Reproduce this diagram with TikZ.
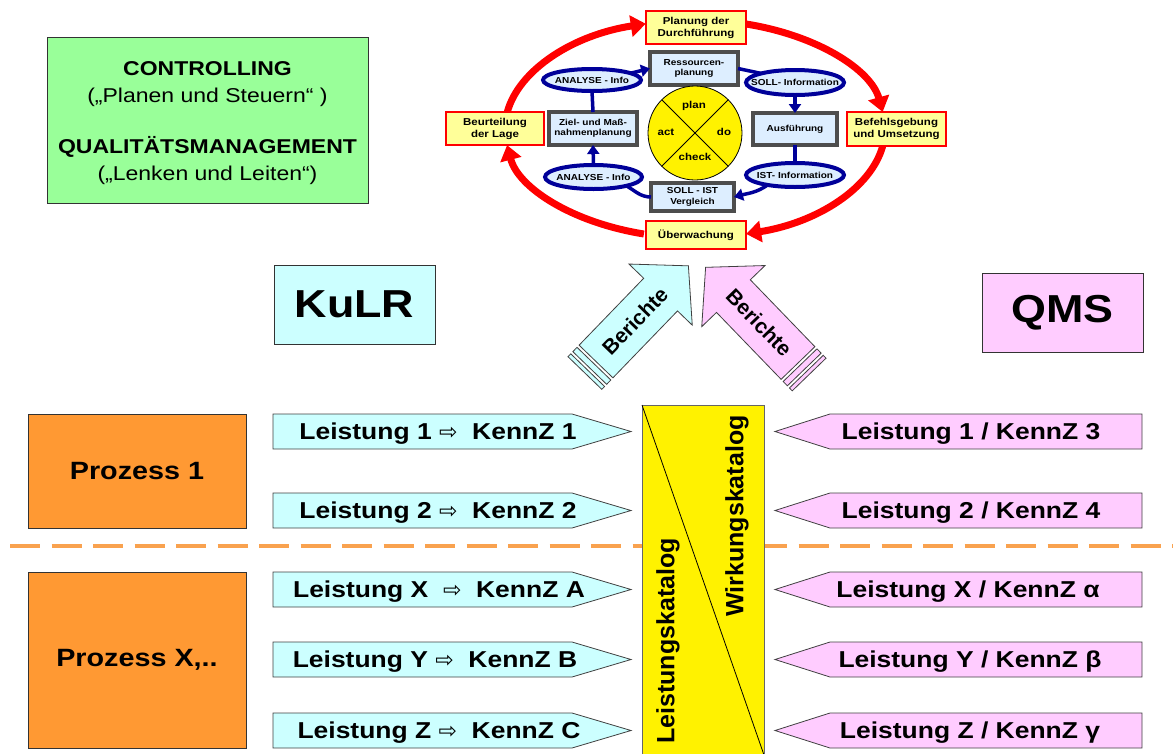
\documentclass[tikz,border=0pt]{standalone}
\usepackage{fontspec}
\setmainfont[FakeStretch=1.15]{Liberation Sans}
\newfontfamily\plainfont{Liberation Sans}
\newfontfamily\symfont{DejaVu Sans}
\usetikzlibrary{arrows.meta,shapes.geometric}
\definecolor{cgreen}{HTML}{99FF99}
\definecolor{ccyan}{HTML}{CCFFFF}
\definecolor{cpink}{HTML}{FFCCFF}
\definecolor{corange}{HTML}{FF9933}
\definecolor{cdash}{HTML}{F9A24F}
\definecolor{cltyellow}{HTML}{FFFF99}
\definecolor{cltblue}{HTML}{DDEEFF}
\definecolor{cnavy}{HTML}{000099}
\definecolor{cgray}{HTML}{4D4D4D}
\newcommand{\fs}[1]{\fontsize{#1}{#1}\selectfont}
\newcommand{\arr}{{\symfont\mdseries\fontsize{22}{22}\selectfont ⇨}}
\begin{document}
\begin{tikzpicture}[x=1pt,y=1pt,
  every node/.style={inner sep=0pt, outer sep=0pt},
  tbox/.style={rectangle, draw=black!80, line width=0.8pt},
  redbox/.style={rectangle, draw=red, line width=1.2pt, fill=cltyellow, align=center, font=\bfseries\fontsize{10}{12}\selectfont},
  graybox/.style={rectangle, draw=cgray, line width=4pt, fill=cltblue, align=center, font=\bfseries\fontsize{8.7}{10.3}\selectfont},
  navyell/.style={ellipse, draw=cnavy, line width=4pt, fill=cltblue},
  elltxt/.style={font=\bfseries\fs{8.7}},
  pdcatxt/.style={anchor=base, font=\bfseries\fs{10}},
  redarc/.style={draw=red, line width=7pt, -{Triangle[length=15pt,width=21pt]}},
  bluearr/.style={draw=cnavy, line width=3.5pt, -{Triangle[length=9pt,width=12pt]}},
  blueln/.style={draw=cnavy, line width=3.5pt},
  lshape/.style={draw=black!75, line width=0.8pt, fill=ccyan},
  rshape/.style={draw=black!75, line width=0.8pt, fill=cpink},
  rowtxt/.style={anchor=base, font=\bfseries\fs{23}},
  bertxt/.style={font=\bfseries\fs{21}}
]
\useasboundingbox (0,0) rectangle (1173,-753);

% ---------- left info boxes ----------
\node[tbox, fill=cgreen, minimum width=321, minimum height=166] (ctrlbox) at (207.5,-120) {};
\node[anchor=base, font=\bfseries\fs{20}] (ctrl1) at (207.5,-75) {CONTROLLING};
\node[anchor=base, font=\fs{20}] (ctrl2) at (207.5,-102) {(„Planen und Steuern“ )};
\node[anchor=base, font=\bfseries\fs{20}] (ctrl3) at (207.5,-153) {QUALITÄTSMANAGEMENT};
\node[anchor=base, font=\fs{20}] (ctrl4) at (207.5,-180) {(„Lenken und Leiten“)};

\node[tbox, fill=ccyan, minimum width=161, minimum height=79, font=\bfseries\fs{39}] (kulr) at (354.5,-304.5) {KuLR};
\node[tbox, fill=cpink, minimum width=161, minimum height=79, font=\bfseries\fs{39}] (qms) at (1062.5,-312.5) {QMS};

% ---------- processes ----------
\node[tbox, fill=corange, minimum width=218, minimum height=114, font=\bfseries\fs{25}] (p1) at (137,-471) {Prozess 1};
\node[tbox, fill=corange, minimum width=218, minimum height=176, font=\bfseries\fs{25}] (px) at (137,-660) {Prozess X,..};

\draw[cdash, line width=4pt, dash pattern=on 30pt off 11.5pt] (10,-546) -- (1173,-546);

% ---------- catalogue ----------
\node[draw=black!60, line width=0.8pt, fill=yellow, minimum width=122, minimum height=350, anchor=north west] (kat) at (642,-405) {};
\draw[line width=0.8pt] (kat.north west) -- (kat.south east);
\node[rotate=90, font=\bfseries\fs{25}] (lk) at (668,-641) {\plainfont Leistungskatalog};
\node[rotate=90, font=\bfseries\fs{25}] (wk) at (737,-516) {\plainfont Wirkungskatalog};

% ---------- rows ----------
\foreach \y in {431.5,510.5,589.5,659.5,730.5} {
  \draw[lshape] (273,-\y+17.5) -- (572,-\y+17.5) -- (631,-\y) -- (572,-\y-17.5) -- (273,-\y-17.5) -- cycle;
  \draw[rshape] (1142,-\y+17.5) -- (830,-\y+17.5) -- (775,-\y) -- (830,-\y-17.5) -- (1142,-\y-17.5) -- cycle;
}
\node[rowtxt] (l1) at (438,-439.7) {Leistung 1 \arr\ \ KennZ 1};
\node[rowtxt] (l2) at (438,-518.7) {Leistung 2 \arr\ \ KennZ 2};
\node[rowtxt] (lx) at (439,-597.7) {Leistung X \ \arr\ \ KennZ A};
\node[rowtxt] (ly) at (435,-667.7) {Leistung Y \arr\ \ KennZ B};
\node[rowtxt] (lz) at (439,-738.7) {Leistung Z \arr\ \ KennZ C};
\node[rowtxt] (r1) at (971,-439.7) {Leistung 1 / KennZ 3};
\node[rowtxt] (r2) at (971,-518.7) {Leistung 2 / KennZ 4};
\node[rowtxt] (rx) at (968,-597.7) {Leistung X / KennZ α};
\node[rowtxt] (ry) at (970,-667.7) {Leistung Y / KennZ β};
\node[rowtxt] (rz) at (970,-738.7) {Leistung Z / KennZ γ};

% ---------- Berichte arrows ----------
\begin{scope}[shift={(596,-361.5)}, rotate=46]
  \draw[lshape] (0,-23.5) -- (93,-23.5) -- (93,-44) -- (133,0) -- (93,44) -- (93,23.5) -- (0,23.5) -- cycle;
  \draw[lshape] (-3,-23.5) rectangle (-9,23.5);
  \draw[lshape] (-12,-23.5) rectangle (-16,23.5);
  \node[bertxt, rotate=46] (ber1) at (56,0) {\plainfont Berichte};
\end{scope}
\begin{scope}[shift={(798,-363)}, rotate=134]
  \draw[rshape] (0,-23.5) -- (93,-23.5) -- (93,-44) -- (133,0) -- (93,44) -- (93,23.5) -- (0,23.5) -- cycle;
  \draw[rshape] (-3,-23.5) rectangle (-9,23.5);
  \draw[rshape] (-12,-23.5) rectangle (-16,23.5);
  \node[bertxt, rotate=-46] (ber2) at (56,0) {\plainfont Berichte};
\end{scope}

% ---------- outer red cycle ----------
\coordinate (a1) at (507.3,-112);
\coordinate (a2) at (746.1,-24);
\coordinate (a3) at (882.7,-146);
\coordinate (a4) at (643.9,-234);
\draw[redarc] (a1) arc[start angle=171, end angle=105, x radius=190, y radius=109];
\draw[redarc] (a2) arc[start angle=74.4, end angle=9, x radius=190, y radius=109];
\draw[redarc] (a3) arc[start angle=-9, end angle=-74.4, x radius=190, y radius=109];
\draw[redarc] (a4) arc[start angle=-105.6, end angle=-171.5, x radius=190, y radius=109];

\node[redbox, minimum width=100, minimum height=33] (plan) at (696,-27.5) {Planung der\\Durchführung};
\node[redbox, minimum width=99, minimum height=34] (befehl) at (896.5,-129) {Befehlsgebung\\und Umsetzung};
\node[redbox, minimum width=98, minimum height=33] (beurt) at (495,-128.5) {Beurteilung\\der Lage};
\node[redbox, minimum width=100, minimum height=28] (ueber) at (696,-235) {Überwachung};

% ---------- inner blue cycle ----------
\node[graybox, minimum width=88, minimum height=33] (res) at (694,-68.5) {Ressourcen-\\planung};
\node[graybox, minimum width=84, minimum height=32] (aus) at (795,-129) {Ausführung};
\node[graybox, minimum width=83, minimum height=28] (sollist) at (692.5,-197) {SOLL - IST\\Vergleich};
\node[graybox, minimum width=88, minimum height=33] (ziel) at (593,-128.5) {Ziel- und Maß-\\nahmenplanung};

\node[navyell, minimum width=98, minimum height=22] (ana1) at (592,-80) {};
\node[navyell, minimum width=98, minimum height=25] (soll) at (795,-82.5) {};
\node[navyell, minimum width=98, minimum height=24] (ist) at (795,-175) {};
\node[navyell, minimum width=97, minimum height=24] (ana2) at (593.5,-177) {};
\node[elltxt] (ana1t) at (ana1) {ANALYSE - Info};
\node[elltxt] (sollt) at (soll) {SOLL- Information};
\node[elltxt] (istt) at (ist) {IST- Information};
\node[elltxt] (ana2t) at (ana2) {ANALYSE - Info};

\draw[blueln] (ziel.north) -- (ana1.south);
\draw[bluearr] (ana2.north) -- (ziel.south);
\draw[bluearr] (ana1.10) -- (res.west);
\draw[blueln] (res.east) -- (soll.165);
\draw[bluearr] (soll.south) -- (aus.north);
\draw[blueln] (aus.south) -- (ist.north);
\draw[bluearr] (ist.200) to[out=215, in=15] (sollist.east);
\draw[blueln] (sollist.west) to[out=180, in=-30] (ana2.345);

\node[circle, draw=black, line width=0.8pt, fill=yellow, minimum size=94] (pdca) at (695,-133) {};
\draw[line width=0.8pt] (pdca.45) -- (pdca.225);
\draw[line width=0.8pt] (pdca.135) -- (pdca.315);
\node[pdcatxt] (tplan) at (694,-108) {plan};
\node[pdcatxt] (tact) at (666,-135) {act};
\node[pdcatxt] (tdo) at (724,-135) {do};
\node[pdcatxt] (tcheck) at (695,-160.7) {check};
\end{tikzpicture}
\end{document}
